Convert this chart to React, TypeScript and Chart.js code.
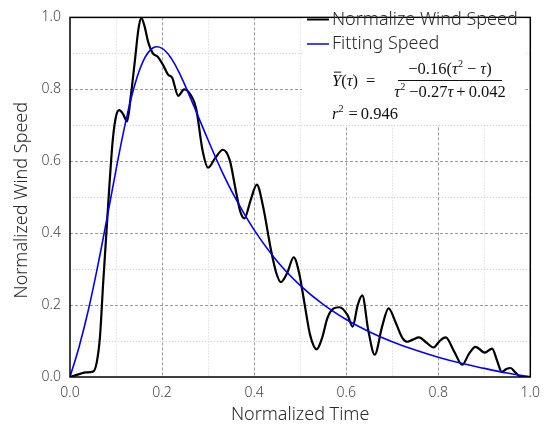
import { useEffect, useRef } from "react";
import { Chart, registerables } from "chart.js";

Chart.register(...registerables);

// ---- data ----
const windTime = [
  0, 0.02, 0.035, 0.05, 0.058, 0.065, 0.072, 0.079, 0.086, 0.093, 0.1, 0.107, 0.115, 0.124,
  0.132, 0.141, 0.149, 0.155, 0.162, 0.17, 0.18, 0.191, 0.202, 0.213, 0.222, 0.235, 0.248,
  0.256, 0.274, 0.288, 0.3, 0.316, 0.332, 0.347, 0.361, 0.37, 0.379, 0.392, 0.406, 0.419,
  0.437, 0.448, 0.458, 0.472, 0.486, 0.498, 0.509, 0.522, 0.536, 0.548, 0.559, 0.572, 0.585,
  0.603, 0.614, 0.625, 0.635, 0.648, 0.662, 0.678, 0.692, 0.708, 0.722, 0.733, 0.745, 0.758,
  0.775, 0.79, 0.803, 0.816, 0.835, 0.852, 0.867, 0.881, 0.901, 0.917, 0.928, 0.938, 0.948,
  0.957, 0.968, 0.978, 1.0,
];
const windSpeed = [
  0, 0.008, 0.013, 0.015, 0.04, 0.11, 0.26, 0.4, 0.54, 0.66, 0.725, 0.742, 0.732, 0.711,
  0.78, 0.88, 0.97, 0.998, 0.975, 0.931, 0.9, 0.89, 0.868, 0.841, 0.832, 0.782, 0.8,
  0.795, 0.747, 0.63, 0.582, 0.61, 0.632, 0.603, 0.513, 0.46, 0.441, 0.49, 0.535, 0.477,
  0.351, 0.29, 0.264, 0.29, 0.333, 0.288, 0.208, 0.115, 0.077, 0.11, 0.163, 0.19, 0.194,
  0.172, 0.14, 0.2, 0.227, 0.13, 0.062, 0.14, 0.191, 0.15, 0.109, 0.098, 0.104, 0.11,
  0.095, 0.082, 0.1, 0.11, 0.07, 0.034, 0.065, 0.084, 0.068, 0.079, 0.045, 0.014, 0.022,
  0.025, 0.012, 0.002, 0,
];
const fitTime = [
  0, 0.02, 0.04, 0.06, 0.08, 0.1, 0.12, 0.14, 0.16, 0.18, 0.2, 0.22, 0.24, 0.26, 0.28, 0.3,
  0.33, 0.36, 0.4, 0.45, 0.5, 0.55, 0.6, 0.65, 0.7, 0.75, 0.8, 0.85, 0.9, 0.95, 1.0,
];
const fitSpeed = [
  0, 0.085, 0.187, 0.307, 0.439, 0.576, 0.704, 0.809, 0.881, 0.915, 0.914, 0.886, 0.839,
  0.781, 0.72, 0.659, 0.572, 0.496, 0.409, 0.322, 0.255, 0.202, 0.16, 0.126, 0.098, 0.075,
  0.055, 0.038, 0.024, 0.011, 0,
];
const axisTicks = [0, 0.2, 0.4, 0.6, 0.8, 1.0];
const seriesLabels = ["Normalize Wind Speed", "Fitting Speed"];
const xTitle = "Normalized Time";
const yTitle = "Normalized Wind Speed";
const fitCoefA = "0.16";
const fitCoefB = "0.27";
const fitCoefC = "0.042";
const rSquared = "0.946";

type Piece = { t: string; it?: boolean; sup?: boolean; gap?: number };

const SERIF = '"Liberation Serif", "DejaVu Serif", serif';
const SANS = '"Noto Sans", "DejaVu Sans", sans-serif';

function pieceWidth(ctx: CanvasRenderingContext2D, p: Piece, size: number) {
  if (p.gap !== undefined) return p.gap;
  const s = p.sup ? size * 0.62 : size;
  ctx.font = `${p.it ? "italic " : ""}${s}px ${SERIF}`;
  return ctx.measureText(p.t).width;
}

function runWidth(ctx: CanvasRenderingContext2D, pieces: Piece[], size: number) {
  let w = 0;
  for (const p of pieces) w += pieceWidth(ctx, p, size);
  return w;
}

function drawRun(ctx: CanvasRenderingContext2D, pieces: Piece[], x: number, base: number, size: number) {
  let cx = x;
  for (const p of pieces) {
    const w = pieceWidth(ctx, p, size);
    if (p.gap === undefined) ctx.fillText(p.t, cx, p.sup ? base - size * 0.4 : base);
    cx += w;
  }
  return cx;
}

export default function App() {
  const ref = useRef<HTMLCanvasElement>(null);

  useEffect(() => {
    const canvas = ref.current;
    if (!canvas) return;

    const decor = {
      id: "decor",
      beforeDatasetsDraw(chart: any) {
        const { ctx, chartArea: a, scales } = chart;
        const x = scales.x;
        const y = scales.y;
        ctx.save();
        ctx.lineWidth = 1;
        const minor: number[] = [];
        for (let i = 0; i < axisTicks.length - 1; i++) minor.push((axisTicks[i] + axisTicks[i + 1]) / 2);
        const drawSet = (vals: number[], major: boolean) => {
          ctx.setLineDash(major ? [3, 2] : [1, 2]);
          ctx.strokeStyle = major ? "#9a9a9a" : "#cfcfcf";
          for (const v of vals) {
            const px = Math.round(x.getPixelForValue(v)) + 0.5;
            const py = Math.round(y.getPixelForValue(v)) + 0.5;
            ctx.beginPath();
            ctx.moveTo(px, a.top);
            ctx.lineTo(px, a.bottom);
            ctx.moveTo(a.left, py);
            ctx.lineTo(a.right, py);
            ctx.stroke();
          }
        };
        drawSet(minor, false);
        drawSet(axisTicks.slice(1, -1), true);
        ctx.restore();
      },
      afterDraw(chart: any) {
        const { ctx, chartArea: a } = chart;
        ctx.save();
        // frame
        ctx.setLineDash([]);
        ctx.strokeStyle = "#000";
        ctx.lineWidth = 1.5;
        ctx.strokeRect(a.left, a.top, a.right - a.left, a.bottom - a.top);

        // axis titles
        ctx.fillStyle = "#2a2a2a";
        ctx.font = `300 18px ${SANS}`;
        ctx.textAlign = "center";
        ctx.textBaseline = "middle";
        ctx.fillText(xTitle, (a.left + a.right) / 2, 415);
        ctx.save();
        ctx.translate(22, (a.top + a.bottom) / 2 + 3);
        ctx.rotate(-Math.PI / 2);
        ctx.fillText(yTitle, 0, 0);
        ctx.restore();

        // legend box
        ctx.fillStyle = "#fff";
        ctx.fillRect(302, a.top + 1, a.right - 1 - 302 - 4, 125 - a.top - 1);
        ctx.lineWidth = 2;
        ctx.strokeStyle = "#000";
        ctx.beginPath();
        ctx.moveTo(307, 19.5);
        ctx.lineTo(329, 19.5);
        ctx.stroke();
        ctx.lineWidth = 1.5;
        ctx.strokeStyle = "#0000ff";
        ctx.beginPath();
        ctx.moveTo(307, 44);
        ctx.lineTo(329, 44);
        ctx.stroke();
        ctx.fillStyle = "#2a2a2a";
        ctx.font = `300 18px ${SANS}`;
        ctx.textAlign = "left";
        ctx.textBaseline = "middle";
        ctx.fillText(seriesLabels[0], 332, 20);
        ctx.fillText(seriesLabels[1], 332, 44);

        // formula
        ctx.fillStyle = "#111";
        ctx.textBaseline = "alphabetic";
        const size = 16.5;
        const left: Piece[] = [
          { t: "Y", it: true },
          { t: "(" },
          { t: "τ", it: true },
          { t: ")" },
          { gap: 8 },
          { t: "=" },
        ];
        const lx = 332;
        const lb = 86;
        drawRun(ctx, left, lx, lb, size);
        ctx.font = `italic ${size}px ${SERIF}`;
        const yw = ctx.measureText("Y").width;
        ctx.lineWidth = 1;
        ctx.strokeStyle = "#111";
        ctx.beginPath();
        ctx.moveTo(lx + 2, lb - size * 0.84);
        ctx.lineTo(lx + yw, lb - size * 0.84);
        ctx.stroke();

        const num: Piece[] = [
          { t: `−${fitCoefA}(` },
          { t: "τ", it: true },
          { t: "2", sup: true },
          { gap: 4 },
          { t: "−" },
          { gap: 4 },
          { t: "τ", it: true },
          { t: ")" },
        ];
        const den: Piece[] = [
          { t: "τ", it: true },
          { t: "2", sup: true },
          { gap: 4 },
          { t: `−${fitCoefB}` },
          { t: "τ", it: true },
          { gap: 3 },
          { t: "+" },
          { gap: 3 },
          { t: fitCoefC },
        ];
        const bx0 = 398;
        const bx1 = 502;
        const bc = (bx0 + bx1) / 2;
        ctx.beginPath();
        ctx.moveTo(bx0, 80.5);
        ctx.lineTo(bx1, 80.5);
        ctx.stroke();
        drawRun(ctx, num, bc - runWidth(ctx, num, size) / 2, 74, size);
        drawRun(ctx, den, bc - runWidth(ctx, den, size) / 2, 97, size);

        const rr: Piece[] = [
          { t: "r", it: true },
          { t: "2", sup: true },
          { gap: 5 },
          { t: "=" },
          { gap: 3 },
          { t: rSquared },
        ];
        drawRun(ctx, rr, 332, 119, size);
        ctx.restore();
      },
    };

    const chart = new Chart(canvas, {
      type: "line",
      data: {
        datasets: [
          {
            label: seriesLabels[1],
            data: fitTime.map((t, i) => ({ x: t, y: fitSpeed[i] })),
            borderColor: "#0000ff",
            borderWidth: 1.6,
            pointRadius: 0,
            tension: 0.4,
            fill: false,
            order: 0,
          },
          {
            label: seriesLabels[0],
            data: windTime.map((t, i) => ({ x: t, y: windSpeed[i] })),
            borderColor: "#000000",
            borderWidth: 2.2,
            pointRadius: 0,
            cubicInterpolationMode: "monotone",
            fill: false,
            order: 1,
          },
        ],
      },
      options: {
        responsive: false,
        animation: false,
        devicePixelRatio: 1,
        layout: { padding: { top: 6, right: 16, bottom: 0, left: 0 } },
        plugins: { legend: { display: false }, tooltip: { enabled: false } },
        scales: {
          x: {
            type: "linear",
            min: 0,
            max: 1,
            grid: { display: false, drawTicks: false },
            border: { display: false },
            afterBuildTicks: (s: any) => {
              s.ticks = axisTicks.map((v) => ({ value: v }));
            },
            afterFit: (s: any) => {
              s.height = 56;
            },
            ticks: {
              padding: 8,
              color: "#444",
              font: { family: SANS, size: 14, weight: "300" },
              maxRotation: 0,
              callback: (v: any) => Number(v).toFixed(1),
            },
          },
          y: {
            type: "linear",
            min: 0,
            max: 1,
            grid: { display: false, drawTicks: false },
            border: { display: false },
            afterBuildTicks: (s: any) => {
              s.ticks = axisTicks.map((v) => ({ value: v }));
            },
            afterFit: (s: any) => {
              s.width = 70;
            },
            ticks: {
              padding: 9,
              color: "#444",
              font: { family: SANS, size: 14, weight: "300" },
              callback: (v: any) => Number(v).toFixed(1),
            },
          },
        },
      } as any,
      plugins: [decor],
    });

    return () => chart.destroy();
  }, []);

  return (
    <div style={{ position: "absolute", left: 0, top: 0, width: 548, height: 433, background: "#fff" }}>
      <canvas ref={ref} width={548} height={433} style={{ display: "block" }} />
    </div>
  );
}
